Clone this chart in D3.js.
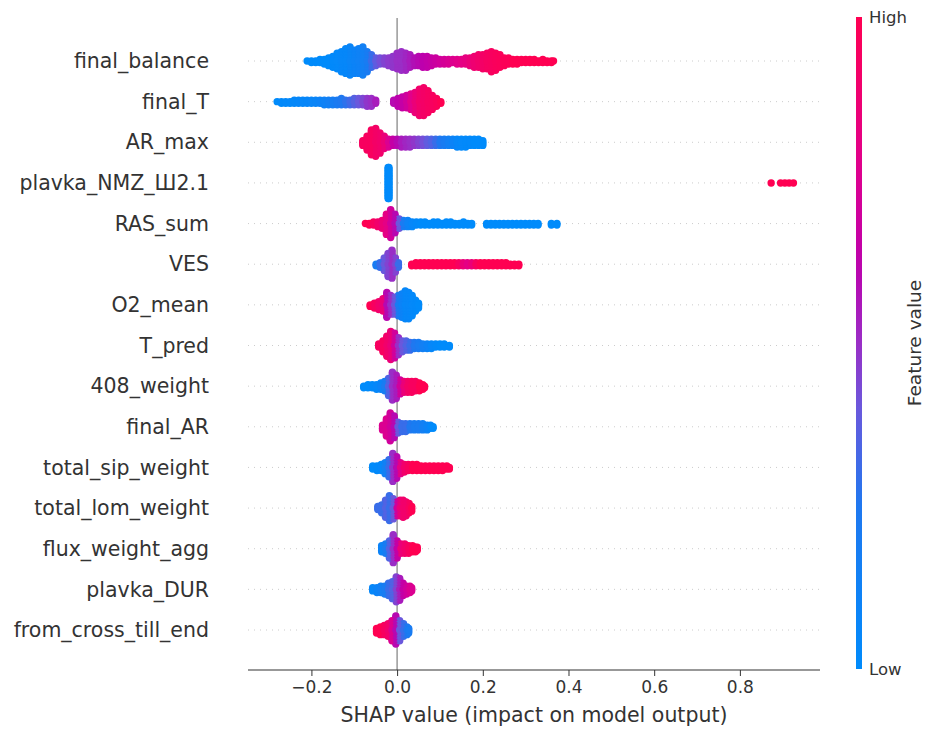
<!DOCTYPE html>
<html><head><meta charset="utf-8">
<script src="https://cdn.jsdelivr.net/npm/d3@7"></script>
<style>body{margin:0;background:#fff;} svg{display:block;font-family:"DejaVu Sans",sans-serif;}</style>
</head><body>
<svg id="c" width="940" height="736"></svg>
<script>
// Feature names (top to bottom)
const features = ["final_balance","final_T","AR_max","plavka_NMZ_Ш2.1","RAS_sum","VES","O2_mean","T_pred","408_weight","final_AR","total_sip_weight","total_lom_weight","flux_weight_agg","plavka_DUR","from_cross_till_end"];
const xTicks = [-0.2, 0, 0.2, 0.4, 0.6, 0.8];
// Each bin: [SHAP value, number of points, feature value (0 low .. 1 high)]
const final_balance = [[-0.21,1,0],[-0.20,2,0],[-0.19,2,0],[-0.18,3,0],[-0.17,4,0],[-0.16,6,0],[-0.15,8,0.02],[-0.14,11,0.03],[-0.13,14,0.05],[-0.12,17,0.05],[-0.11,19,0.08],[-0.10,16,0.1],[-0.09,17,0.12],[-0.08,19,0.15],[-0.07,14,0.2],[-0.06,9,0.3],[-0.05,6,0.38],[-0.04,5,0.42],[-0.03,5,0.45],[-0.02,6,0.47],[-0.01,8,0.48],[0.00,11,0.5],[0.01,13,0.5],[0.02,12,0.52],[0.03,9,0.55],[0.04,6,0.58],[0.05,7,0.6],[0.06,8,0.62],[0.07,8,0.64],[0.08,6,0.66],[0.09,5,0.68],[0.10,4,0.7],[0.11,4,0.72],[0.12,4,0.74],[0.13,3,0.76],[0.14,4,0.78],[0.15,4,0.8],[0.16,5,0.82],[0.17,6,0.85],[0.18,8,0.88],[0.19,9,0.9],[0.20,10,0.92],[0.21,11,0.94],[0.22,14,0.95],[0.23,12,0.96],[0.24,9,0.97],[0.25,6,0.98],[0.26,5,0.98],[0.27,4,1],[0.28,4,1],[0.29,3,1],[0.30,3,1],[0.31,3,1],[0.32,3,1],[0.33,2,1],[0.34,3,1],[0.35,2,1],[0.36,2,1],[0.365,1,1]];
const final_T = [[-0.28,1,0],[-0.27,2,0.02],[-0.26,2,0.03],[-0.25,2,0.03],[-0.24,3,0.04],[-0.23,3,0.05],[-0.22,3,0.05],[-0.21,3,0.06],[-0.20,3,0.07],[-0.19,3,0.08],[-0.18,3,0.1],[-0.17,4,0.12],[-0.16,4,0.15],[-0.15,4,0.18],[-0.14,4,0.22],[-0.13,5,0.25],[-0.12,4,0.28],[-0.11,4,0.32],[-0.10,5,0.36],[-0.09,5,0.4],[-0.08,5,0.44],[-0.07,6,0.48],[-0.06,6,0.5],[-0.05,3,0.55],[-0.008,3,0.6],[0.002,6,0.62],[0.012,8,0.65],[0.022,9,0.7],[0.032,11,0.78],[0.042,14,0.85],[0.052,18,0.9],[0.062,19,0.92],[0.072,15,0.94],[0.082,10,0.95],[0.092,6,0.97],[0.102,2,1]];
const AR_max = [[-0.08,4,0.95],[-0.07,10,0.95],[-0.06,17,0.95],[-0.05,19,0.92],[-0.04,14,0.9],[-0.03,9,0.85],[-0.02,6,0.75],[-0.01,5,0.65],[0.00,5,0.6],[0.01,6,0.55],[0.02,6,0.52],[0.03,6,0.5],[0.04,5,0.48],[0.05,5,0.45],[0.06,5,0.42],[0.07,5,0.38],[0.08,5,0.35],[0.09,5,0.3],[0.10,5,0.25],[0.11,5,0.2],[0.12,5,0.15],[0.13,5,0.1],[0.14,6,0.05],[0.15,6,0.03],[0.16,6,0.02],[0.17,5,0.02],[0.18,5,0],[0.19,5,0],[0.20,4,0]];
const plavka_NMZ = [[-0.021,21,0],[-0.019,21,0],[0.873,1,1],[0.895,1,1],[0.905,1,1],[0.915,1,1],[0.925,1,1]];
const RAS_sum = [[-0.074,1,1],[-0.065,2,1],[-0.055,3,0.95],[-0.045,4,0.9],[-0.035,6,0.85],[-0.025,14,0.8],[-0.015,19,0.7],[-0.005,13,0.6],[0.005,7,0.4],[0.015,5,0.2],[0.025,5,0.1],[0.035,4,0.05],[0.045,3,0.02],[0.055,3,0],[0.065,3,0],[0.075,2,0],[0.085,3,0],[0.095,3,0],[0.105,2,0],[0.115,3,0],[0.125,3,0],[0.135,2,0],[0.145,2,0],[0.155,3,0],[0.165,2,0],[0.174,2,0],[0.209,2,0],[0.219,2,0],[0.229,2,0],[0.239,2,0],[0.249,2,0],[0.259,2,0],[0.269,2,0],[0.279,2,0],[0.289,2,0],[0.299,2,0],[0.309,2,0],[0.319,2,0],[0.329,2,0],[0.36,2,0],[0.373,2,0]];
const VES = [[-0.049,2,0.2],[-0.04,4,0.3],[-0.03,9,0.4],[-0.021,16,0.45],[-0.012,19,0.5],[-0.004,10,0.45],[0.003,4,0.3],[0.034,2,1],[0.044,3,1],[0.054,3,1],[0.064,3,1],[0.074,3,1],[0.084,3,1],[0.094,3,1],[0.104,3,1],[0.114,3,1],[0.124,3,1],[0.134,3,1],[0.144,3,0.95],[0.154,3,0.85],[0.164,3,0.8],[0.174,3,0.85],[0.184,3,0.95],[0.194,3,1],[0.204,3,1],[0.214,3,1],[0.224,3,1],[0.234,3,1],[0.244,3,1],[0.254,3,1],[0.264,2,1],[0.274,2,1],[0.284,2,1]];
const O2_mean = [[-0.063,2,1],[-0.053,4,0.95],[-0.043,6,0.9],[-0.033,9,0.85],[-0.024,17,0.6],[-0.015,13,0.5],[-0.006,12,0.4],[0.003,14,0.2],[0.011,16,0.1],[0.019,19,0.05],[0.027,18,0.05],[0.035,14,0.03],[0.043,8,0.02],[0.05,4,0]];
const T_pred = [[-0.043,3,0.95],[-0.033,8,0.95],[-0.024,14,0.9],[-0.015,19,0.85],[-0.006,17,0.7],[0.003,12,0.5],[0.012,8,0.4],[0.021,7,0.35],[0.03,6,0.3],[0.04,5,0.25],[0.05,5,0.2],[0.06,4,0.15],[0.07,4,0.1],[0.08,4,0.05],[0.09,3,0.02],[0.10,3,0],[0.11,3,0],[0.122,2,0]];
const weight_408 = [[-0.078,2,0],[-0.068,3,0],[-0.058,3,0.02],[-0.048,4,0.05],[-0.038,5,0.1],[-0.029,7,0.2],[-0.02,12,0.35],[-0.011,19,0.5],[-0.002,16,0.55],[0.007,10,0.7],[0.016,8,0.85],[0.025,8,0.92],[0.034,8,0.95],[0.043,7,0.95],[0.052,6,1],[0.06,4,1],[0.064,2,1]];
const final_AR = [[-0.034,4,0.75],[-0.025,12,0.75],[-0.016,19,0.7],[-0.007,15,0.6],[0.002,8,0.4],[0.011,6,0.3],[0.02,6,0.3],[0.03,5,0.25],[0.04,5,0.2],[0.05,5,0.2],[0.06,5,0.15],[0.07,4,0.1],[0.078,3,0.05],[0.084,2,0]];
const total_sip_weight = [[-0.057,3,0],[-0.047,4,0.02],[-0.037,5,0.05],[-0.028,8,0.15],[-0.019,12,0.3],[-0.01,19,0.5],[-0.001,15,0.6],[0.008,8,0.8],[0.017,6,0.9],[0.026,5,0.95],[0.036,5,1],[0.046,5,1],[0.056,4,1],[0.066,4,1],[0.076,4,1],[0.086,4,1],[0.096,4,1],[0.106,4,1],[0.116,3,1],[0.122,2,1]];
const total_lom_weight = [[-0.045,3,0.3],[-0.036,6,0.3],[-0.027,12,0.35],[-0.018,17,0.3],[-0.009,14,0.4],[0.0,10,0.7],[0.007,11,0.85],[0.014,12,0.9],[0.021,10,0.9],[0.028,7,0.95],[0.034,4,1]];
const flux_weight_agg = [[-0.036,5,0.1],[-0.027,7,0.2],[-0.018,12,0.35],[-0.009,19,0.5],[0.0,12,0.65],[0.009,7,0.85],[0.018,7,0.9],[0.027,6,0.95],[0.036,5,1],[0.043,4,1],[0.047,3,1]];
const plavka_DUR = [[-0.057,3,0.05],[-0.047,4,0.1],[-0.038,5,0.15],[-0.029,6,0.2],[-0.02,9,0.3],[-0.011,12,0.35],[-0.002,17,0.45],[0.006,15,0.55],[0.014,9,0.65],[0.022,6,0.7],[0.03,5,0.75],[0.034,3,0.75]];
const from_cross_till_end = [[-0.048,4,1],[-0.039,6,1],[-0.03,7,0.95],[-0.021,9,0.9],[-0.012,14,0.75],[-0.003,19,0.6],[0.006,14,0.4],[0.015,9,0.3],[0.023,6,0.25],[0.027,4,0.2]];
const swarms = [final_balance, final_T, AR_max, plavka_NMZ, RAS_sum, VES, O2_mean, T_pred, weight_408, final_AR, total_sip_weight, total_lom_weight, flux_weight_agg, plavka_DUR, from_cross_till_end];

// colormap (SHAP red_blue)
const cmapStops = [0, 0.25, 0.4, 0.5, 0.62, 0.78, 1];
const cmapColors = ["#008bfb","#1f78f0","#6a58dc","#9a2ec6","#bd00ad","#e2008a","#ff0052"];
const color = d3.scaleLinear().domain(cmapStops).range(cmapColors).interpolate(d3.interpolateRgb).clamp(true);

const svg = d3.select("#c");
const x = d3.scaleLinear().domain([-0.348, 0.987]).range([248, 820]);
const y = d3.scaleLinear().domain([0, features.length - 1]).range([61, 630]);
const axTop = 18, axBottom = 670;

// grid lines
svg.append("g").selectAll("line").data(features).join("line")
  .attr("x1", x.range()[0]).attr("x2", x.range()[1])
  .attr("y1", (d,i)=>y(i)).attr("y2", (d,i)=>y(i))
  .attr("stroke", "#cccccc").attr("stroke-width", 1).attr("stroke-dasharray", "1,5");

// zero line
svg.append("line").attr("x1", x(0)).attr("x2", x(0)).attr("y1", axTop).attr("y2", axBottom)
  .attr("stroke", "#999999").attr("stroke-width", 1.5);

// points
const spacing = 1.55, r = 3.7;
const pts = [];
swarms.forEach((bins, i) => {
  bins.forEach(([v, n, fv]) => {
    for (let k = 0; k < n; k++) {
      const step = Math.ceil(k / 2) * (k % 2 ? 1 : -1);
      pts.push({row: i, v, fv, off: step * spacing, ord: Math.abs(step)});
    }
  });
});
pts.sort((a,b)=>b.ord - a.ord);
svg.append("g").selectAll("circle").data(pts).join("circle")
  .attr("cx", d=>x(d.v)).attr("cy", d=>y(d.row) + d.off).attr("r", r)
  .attr("fill", d=>color(d.fv));

// y labels
svg.append("g").selectAll("text").data(features).join("text")
  .attr("x", 209).attr("y", (d,i)=>y(i)).attr("dy", "0.35em")
  .attr("text-anchor", "end").attr("font-size", 20.5).attr("fill", "#333333").text(d=>d);

// x axis
const xAxis = d3.axisBottom(x).tickValues(xTicks).tickSize(6).tickPadding(5)
  .tickFormat(d => d3.format(".1f")(d).replace("-", "\u2212"));
const gx = svg.append("g").attr("transform", `translate(0,${axBottom})`).call(xAxis);
gx.select(".domain").attr("stroke", "#333333").attr("stroke-width", 1.2).attr("d", `M${x.range()[0]},0H${x.range()[1]}`);
gx.selectAll(".tick line").attr("stroke", "#333333");
gx.selectAll(".tick text").attr("font-size", 17).attr("fill", "#333333").attr("font-family", "DejaVu Sans");
svg.append("text").attr("x", (x.range()[0]+x.range()[1])/2).attr("y", 722)
  .attr("text-anchor", "middle").attr("font-size", 20.5).attr("fill", "#333333")
  .text("SHAP value (impact on model output)");

// colorbar
const defs = svg.append("defs");
const grad = defs.append("linearGradient").attr("id", "cb").attr("x1", 0).attr("y1", 1).attr("x2", 0).attr("y2", 0);
d3.range(0, 1.0001, 0.05).forEach(t => grad.append("stop").attr("offset", t).attr("stop-color", color(t)));
const cbTop = 17, cbBottom = 669;
svg.append("rect").attr("x", 856).attr("y", cbTop).attr("width", 6).attr("height", cbBottom - cbTop).attr("fill", "url(#cb)");
svg.append("text").attr("x", 869).attr("y", cbTop).attr("dy", "0.35em").attr("font-size", 16.5).attr("fill", "#333333").text("High");
svg.append("text").attr("x", 869).attr("y", cbBottom).attr("dy", "0.35em").attr("font-size", 16.5).attr("fill", "#333333").text("Low");
svg.append("text").attr("transform", `translate(921,${(cbTop+cbBottom)/2}) rotate(-90)`)
  .attr("text-anchor", "middle").attr("font-size", 18.5).attr("fill", "#333333").text("Feature value");
</script>
</body></html>
